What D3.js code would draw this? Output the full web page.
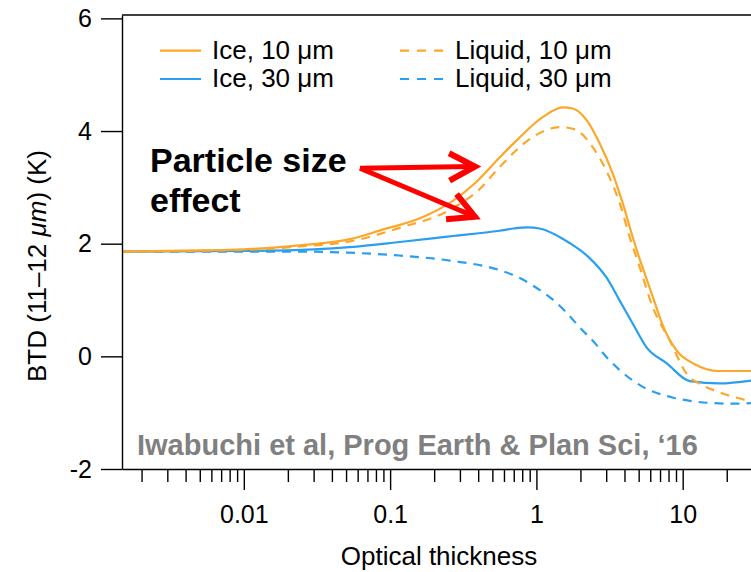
<!DOCTYPE html>
<html><head><meta charset="utf-8">
<script src="https://cdn.jsdelivr.net/npm/d3@7"></script>
<style>
body{margin:0;background:#fff}
svg{display:block}
text{font-family:"Liberation Sans",Arial,Helvetica,sans-serif}
</style>
</head><body>
<svg id="chart" width="751" height="572"></svg>
<script>
// ---------- data ----------
const xMajorTicks = [0.01, 0.1, 1, 10];
const xMajorLabels = ["0.01", "0.1", "1", "10"];
const yTicks = [-2, 0, 2, 4, 6];
const yTickLabels = ["-2", "0", "2", "4", "6"];
const seriesNames = ["Ice, 10 μm", "Ice, 30 μm", "Liquid, 10 μm", "Liquid, 30 μm"];
const seriesColors = ["#FCA72A", "#2A9FEF", "#FCA72A", "#2A9FEF"];
const seriesDashed = [false, false, true, true];

// [optical thickness, BTD (K)]
const ice10 = [[0.00147,1.86],[0.005,1.88],[0.01,1.90],[0.024,1.97],[0.053,2.08],[0.089,2.25],[0.16,2.45],[0.268,2.76],[0.39,3.10],[0.56,3.53],[0.73,3.83],[1.11,4.25],[1.51,4.42],[1.77,4.40],[2.21,4.19],[2.71,3.78],[3.33,3.24],[3.90,2.71],[4.56,2.11],[5.09,1.72],[5.69,1.36],[6.45,0.95],[7.31,0.55],[9.1,0.10],[12.1,-0.14],[17.4,-0.26],[29.3,-0.26]];
const ice30 = [[0.00147,1.86],[0.01,1.87],[0.03,1.90],[0.053,1.94],[0.116,2.03],[0.256,2.13],[0.56,2.23],[0.7,2.27],[0.87,2.29],[1.05,2.27],[1.35,2.16],[1.69,2.01],[1.98,1.89],[2.32,1.74],[3.01,1.40],[3.71,0.99],[4.56,0.58],[5.66,0.16],[7.75,-0.12],[11.2,-0.44],[17.9,-0.48],[29.3,-0.43]];
const liq10 = [[0.00147,1.86],[0.01,1.89],[0.024,1.95],[0.053,2.04],[0.116,2.28],[0.256,2.60],[0.41,2.97],[0.56,3.36],[0.94,3.89],[1.45,4.07],[1.83,4.03],[2.43,3.71],[3.08,3.24],[3.72,2.71],[4.35,2.11],[5.09,1.58],[6.25,0.87],[8.17,0.28],[10.7,-0.32],[13.1,-0.49],[17.9,-0.64],[29.3,-0.80]];
const liq30 = [[0.00147,1.86],[0.024,1.86],[0.053,1.84],[0.116,1.79],[0.256,1.70],[0.56,1.53],[0.77,1.39],[0.94,1.26],[1.29,1.01],[1.56,0.81],[2.0,0.50],[2.5,0.24],[3.03,-0.02],[3.7,-0.24],[4.5,-0.42],[5.5,-0.56],[6.65,-0.65],[8.5,-0.73],[11.2,-0.79],[16,-0.83],[22,-0.84],[29.3,-0.83]];
const seriesData = [ice10, ice30, liq10, liq30];

// annotation arrows in data coordinates
const arrowStart = [0.0622, 3.34];
const arrowTips = [[0.38, 3.37], [0.38, 2.48]];
const annotationLines = ["Particle size", "effect"];
const citation = "Iwabuchi et al, Prog Earth & Plan Sci, \u201816";

// ---------- layout ----------
const svg = d3.select("#chart");
const L = 122, R = 751, T = 15, B = 469;
const x = d3.scaleLog().domain([0.00147, 29.3]).range([L, R]);
const y = d3.scaleLinear().domain([-2, 6.06]).range([B, T]);
const FONT = '"Liberation Sans", Arial, Helvetica, sans-serif';

svg.append("defs").append("clipPath").attr("id", "plotclip")
  .append("rect").attr("x", L).attr("y", T).attr("width", R - L).attr("height", B - T);

// curves
const line = d3.line().x(d => x(d[0])).y(d => y(d[1])).curve(d3.curveMonotoneX);
const gLines = svg.append("g").attr("clip-path", "url(#plotclip)");
[3, 1, 2, 0].forEach(i => {
  gLines.append("path")
    .attr("d", line(seriesData[i]))
    .attr("fill", "none")
    .attr("stroke", seriesColors[i])
    .attr("stroke-width", 2.2)
    .attr("stroke-dasharray", seriesDashed[i] ? "9,7" : null);
});

// axes
const minorTicks = x.ticks().filter(v => Math.abs(Math.log10(v) - Math.round(Math.log10(v))) > 1e-6);
const axMinor = svg.append("g").attr("transform", `translate(0,${B})`)
  .call(d3.axisBottom(x).tickValues(minorTicks).tickSize(13).tickSizeOuter(0).tickFormat(""));
const axMajor = svg.append("g").attr("transform", `translate(0,${B})`)
  .call(d3.axisBottom(x).tickValues(xMajorTicks).tickSize(21).tickSizeOuter(0).tickPadding(15)
    .tickFormat((d, i) => xMajorLabels[i]));
const axY = svg.append("g").attr("transform", `translate(${L},0)`)
  .call(d3.axisLeft(y).tickValues(yTicks).tickSize(21).tickSizeOuter(0).tickPadding(9)
    .tickFormat((d, i) => yTickLabels[i]));
[axMinor, axMajor, axY].forEach(g => {
  g.selectAll("path.domain").attr("stroke", "#000").attr("stroke-width", 1.4);
  g.selectAll(".tick line").attr("stroke", "#000").attr("stroke-width", 1.4);
  g.selectAll(".tick text").attr("fill", "#000").style("font-family", FONT).style("font-size", "25px");
});
axMinor.select("path.domain").remove();
svg.append("line").attr("x1", L).attr("x2", R).attr("y1", T).attr("y2", T)
  .attr("stroke", "#000").attr("stroke-width", 1.4);

// axis titles
svg.append("text").attr("x", 439).attr("y", 565).attr("text-anchor", "middle")
  .style("font-size", "26px").attr("fill", "#000").text("Optical thickness");
const yt = svg.append("text").attr("transform", "translate(46,266) rotate(-90)")
  .attr("text-anchor", "middle").style("font-size", "26px").attr("fill", "#000");
yt.append("tspan").text("BTD (11\u201312 ");
yt.append("tspan").style("font-style", "italic").text("\u03bcm");
yt.append("tspan").text(") (K)");

// legend
const legendPos = [[160, 50.7], [160, 79], [400, 50.7], [400, 79]];
seriesNames.forEach((name, i) => {
  const [lx, ly] = legendPos[i];
  const w = seriesDashed[i] ? 43 : 41;
  svg.append("line").attr("x1", lx).attr("x2", lx + w).attr("y1", ly).attr("y2", ly)
    .attr("stroke", seriesColors[i]).attr("stroke-width", 2.2)
    .attr("stroke-dasharray", seriesDashed[i] ? "9,8" : null);
  svg.append("text").attr("x", lx + (seriesDashed[i] ? 55 : 52)).attr("y", ly + 8)
    .style("font-size", "26px").attr("fill", "#000").text(name);
});

// annotation text
annotationLines.forEach((t, i) => {
  svg.append("text").attr("x", 150).attr("y", 171.7 + i * 40)
    .style("font-size", "34px").style("font-weight", "bold").attr("fill", "#000").text(t);
});

// arrows
arrowTips.forEach(tip => {
  const x0 = x(arrowStart[0]), y0 = y(arrowStart[1]);
  const x1 = x(tip[0]), y1 = y(tip[1]);
  const ang = Math.atan2(y1 - y0, x1 - x0);
  const len = 29, spread = 28 * Math.PI / 180;
  const w1 = [x1 - len * Math.cos(ang - spread), y1 - len * Math.sin(ang - spread)];
  const w2 = [x1 - len * Math.cos(ang + spread), y1 - len * Math.sin(ang + spread)];
  svg.append("path")
    .attr("d", `M${x0},${y0}L${x1 - 3 * Math.cos(ang)},${y1 - 3 * Math.sin(ang)}`)
    .attr("stroke", "#FF0000").attr("stroke-width", 5).attr("fill", "none");
  svg.append("path")
    .attr("d", `M${w1[0]},${w1[1]}L${x1},${y1}L${w2[0]},${w2[1]}`)
    .attr("stroke", "#FF0000").attr("stroke-width", 6).attr("fill", "none")
    .attr("stroke-linejoin", "miter").attr("stroke-miterlimit", 10);
});

// citation
svg.append("text").attr("x", 137).attr("y", 455)
  .style("font-size", "29px").style("font-weight", "bold").attr("fill", "#808080").text(citation);
</script>
</body></html>
